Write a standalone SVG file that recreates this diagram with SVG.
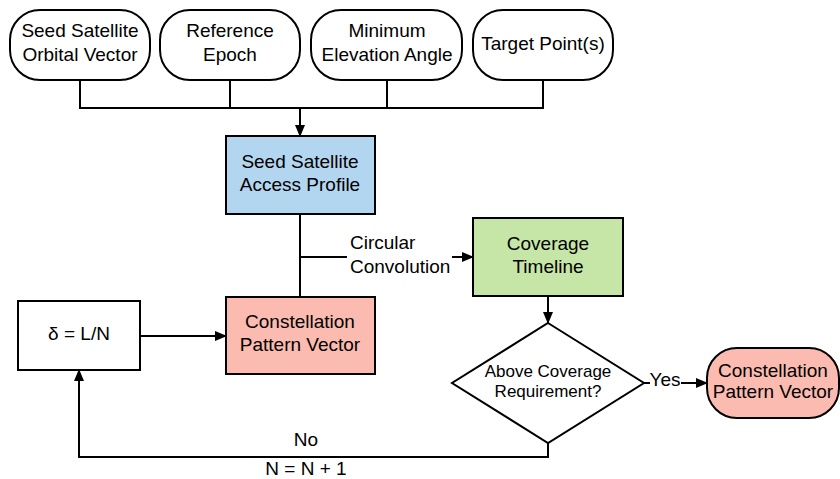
<svg xmlns="http://www.w3.org/2000/svg" width="840" height="479" viewBox="0 0 840 479">
<defs>
<marker id="ah" markerWidth="12" markerHeight="10" refX="11" refY="5" orient="auto" markerUnits="userSpaceOnUse">
<path d="M0,0 L12,5 L0,10 Z" fill="#000"/>
</marker>
<style>
.s{stroke:#000;stroke-width:2;}
.c{fill:none;stroke:#000;stroke-width:2;}
text{font-family:"Liberation Sans",Arial,sans-serif;font-size:19px;fill:#000;text-anchor:middle;}
.sm{font-size:17px;}
</style>
</defs>
<rect width="840" height="479" fill="#fff"/>
<g id="n1"><rect class="s" x="10" y="10" width="140" height="70" rx="30" fill="#fff"/><text x="80" y="37">Seed Satellite</text><text x="80" y="61">Orbital Vector</text></g>
<g id="n2"><rect class="s" x="160" y="10" width="140" height="70" rx="30" fill="#fff"/><text x="230" y="37">Reference</text><text x="230" y="61">Epoch</text></g>
<g id="n3"><rect class="s" x="311" y="10" width="151" height="70" rx="30" fill="#fff"/><text x="387" y="37">Minimum</text><text x="387" y="61">Elevation Angle</text></g>
<g id="n4"><rect class="s" x="473" y="10" width="140" height="70" rx="30" fill="#fff"/><text x="543" y="50">Target Point(s)</text></g>
<g id="access"><rect class="s" x="226" y="136" width="149" height="78" fill="#b3d6f0"/><text x="300" y="168">Seed Satellite</text><text x="300" y="191">Access Profile</text></g>
<g id="coverage"><rect class="s" x="473" y="218" width="150" height="78" fill="#c6e6a8"/><text x="548" y="250">Coverage</text><text x="548" y="273">Timeline</text></g>
<g id="pattern"><rect class="s" x="226" y="297" width="149" height="77" fill="#fbbbb0"/><text x="300" y="328">Constellation</text><text x="300" y="351">Pattern Vector</text></g>
<g id="delta"><rect class="s" x="18" y="301" width="122" height="69" fill="#fff"/><text x="79" y="340">δ = L/N</text></g>
<g id="decision"><polygon class="s" points="548,323 644,383 548,443 452,383" fill="#fff"/><text class="sm" x="548" y="377">Above Coverage</text><text class="sm" x="548" y="397">Requirement?</text></g>
<g id="result"><rect class="s" x="707" y="348" width="132" height="70" rx="30" fill="#fbbbb0"/><text x="773" y="377">Constellation</text><text x="773" y="398">Pattern Vector</text></g>
<g id="connectors">
<path class="c" d="M80,80 V108 H543 V80 M230,80 V108 M387,80 V108"/>
<path class="c" d="M300,108 V136" marker-end="url(#ah)"/>
<path class="c" d="M300,214 V297 M300,257 H347"/>
<path class="c" d="M452,257 H473" marker-end="url(#ah)"/>
<path class="c" d="M140,336 H226" marker-end="url(#ah)"/>
<path class="c" d="M548,296 V323" marker-end="url(#ah)"/>
<path class="c" d="M644,383 H650"/>
<path class="c" d="M681,383 H707" marker-end="url(#ah)"/>
<path class="c" d="M548,443 V457 H79 V370" marker-end="url(#ah)"/>
</g>
<g id="labels">
<text x="350" y="249" style="text-anchor:start">Circular</text>
<text x="350" y="273" style="text-anchor:start">Convolution</text>
<text x="665" y="386">Yes</text>
<text x="306" y="446">No</text>
<text x="306" y="475">N = N + 1</text>
</g>
</svg>
